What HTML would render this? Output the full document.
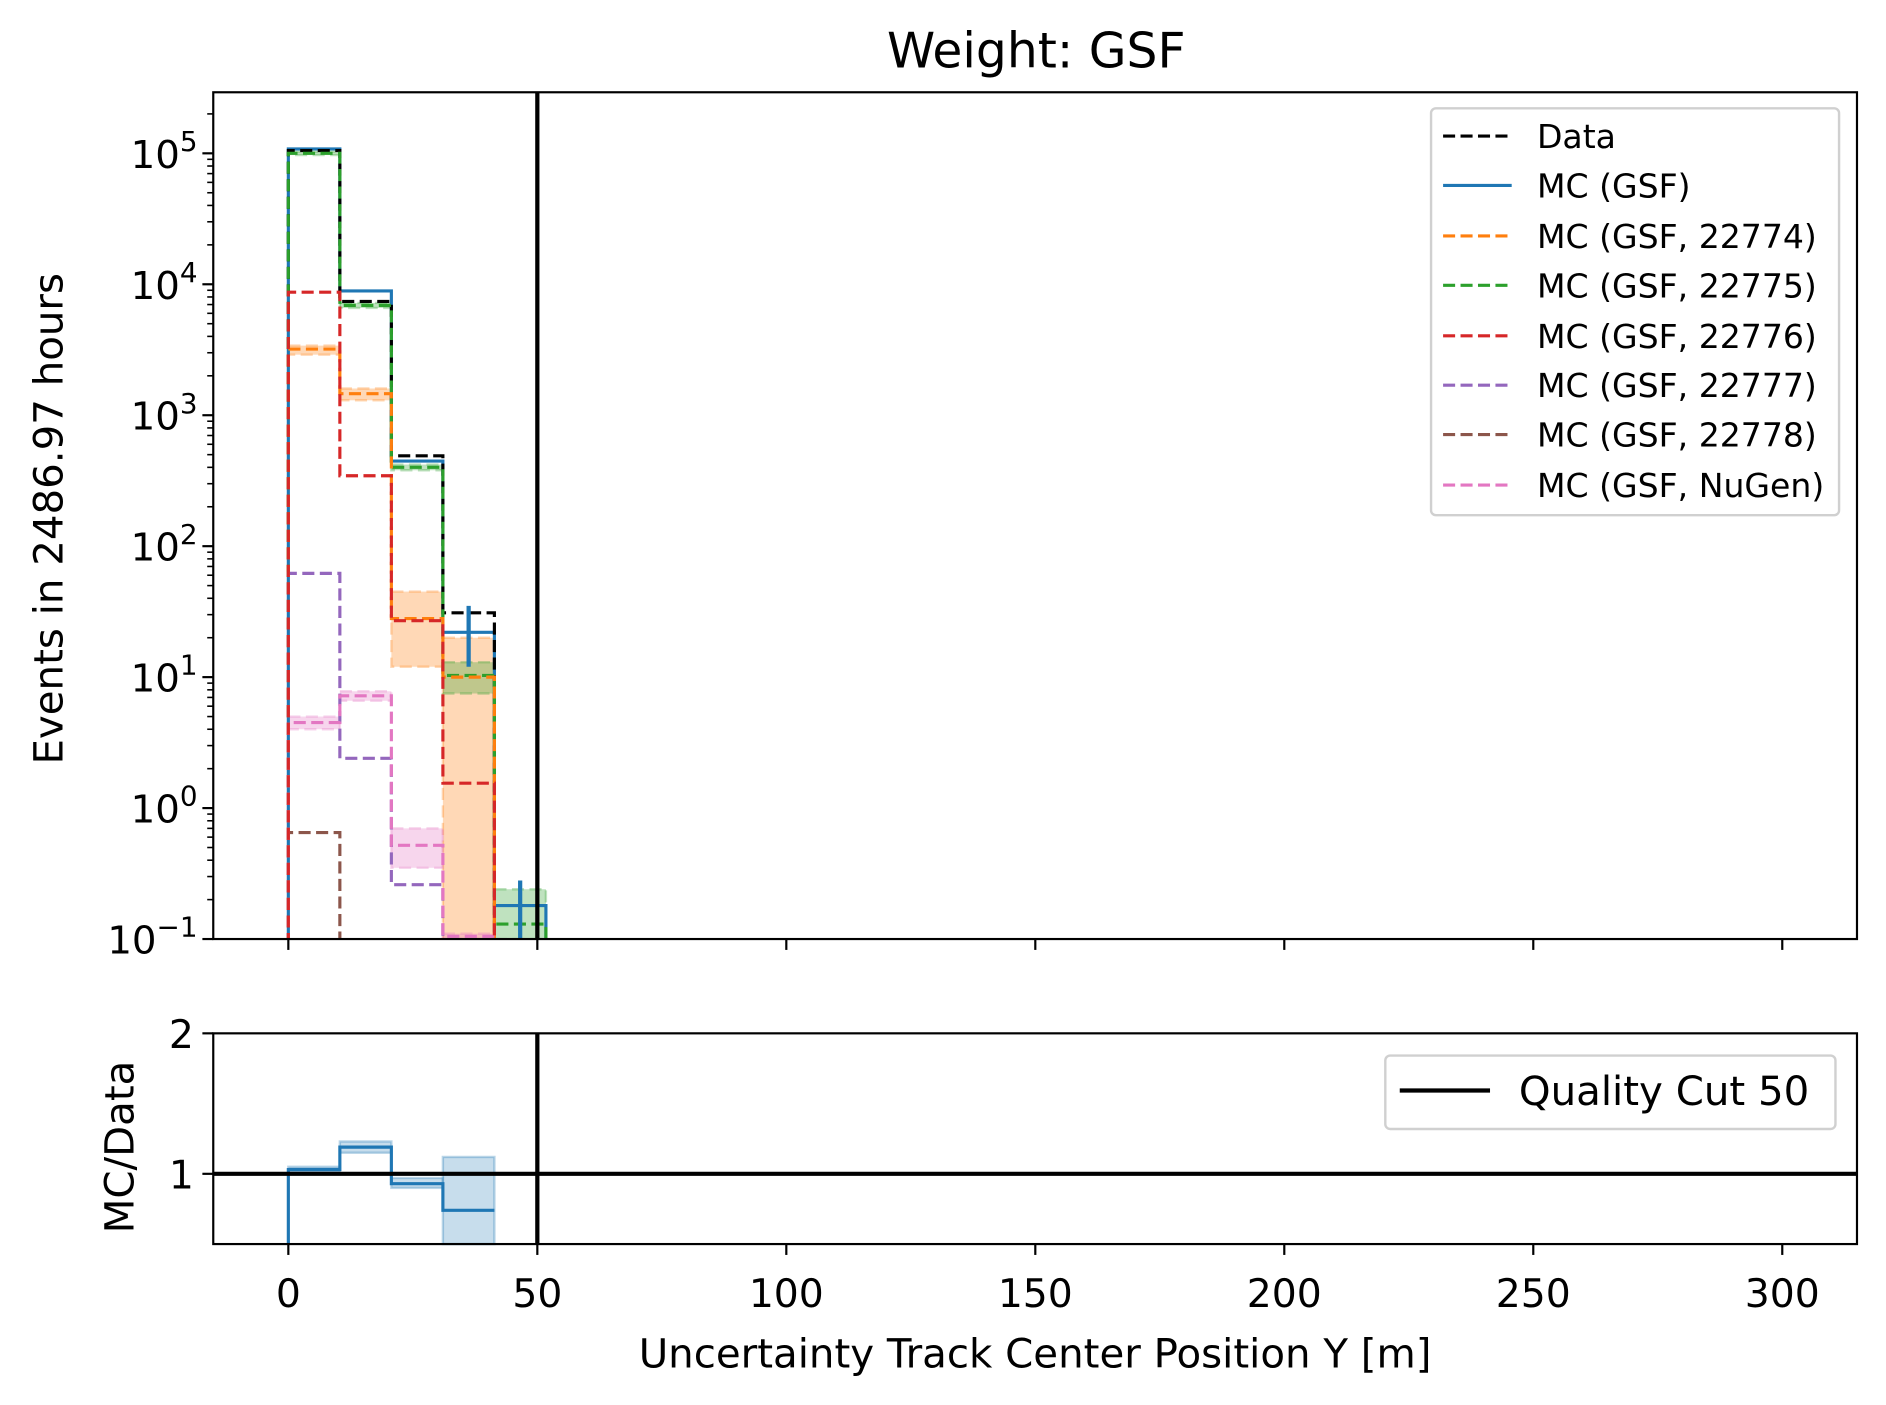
<!DOCTYPE html>
<html><head><meta charset="utf-8"><style>
html,body{margin:0;padding:0;background:#fff}
svg{display:block}
text{font-family:"DejaVu Sans","Liberation Sans",sans-serif;fill:#000}
</style></head><body>
<svg id="chart" xmlns="http://www.w3.org/2000/svg" width="1886" height="1405" viewBox="0 0 1560 1162.1">
<rect width="1560" height="1162.1" fill="#fff"/>
<g id="main"></g>
<g id="ratio"></g>
<g id="axes"></g>
</svg>
<script>
const binWidth = 300/29;
const dataVals = [1.05e5, 7.4e3, 490, 31, null];
const mcGsf = [1.08e5, 8.9e3, 447, 22, 0.18];
const mc22774 = [3.2e3, 1.46e3, 28, 10, null];
const mc22774Lo = [2.9e3, 1.3e3, 12, 0.1, null];
const mc22774Hi = [3.4e3, 1.6e3, 45, 20, null];
const mc22775 = [1.0e5, 6.9e3, 400, 10.3, 0.13];
const mc22775Lo = [0.97e5, 6.6e3, 380, 7.5, 0.1];
const mc22775Hi = [1.03e5, 7.2e3, 420, 13, 0.24];
const mc22776 = [8.7e3, 345, 27, 1.55, null];
const mc22777 = [62, 2.4, 0.26, null, null];
const mc22778 = [0.65, null, null, null, null];
const mcNuGen = [4.5, 7.2, 0.52, 0.105, null];
const nuGenLo = [4.0, 6.6, 0.35, 0.1, null];
const nuGenHi = [5.0, 7.8, 0.7, 0.11, null];
const ratioVals = [1.03, 1.19, 0.93, 0.74];
const ratioLo = [1.01, 1.15, 0.9, 0.5];
const ratioHi = [1.05, 1.23, 0.97, 1.12];
const errCenters = [3, 4];
const errLo = [12, 0.1];
const errHi = [35, 0.28];
const xTicks = [0, 50, 100, 150, 200, 250, 300];
const yDecades = [-1, 0, 1, 2, 3, 4, 5];
const ratioTicks = [1, 2];
const cutValue = 50;

const X0=176.4, X1=1536, T0=76.3, T1=776.7, R0=854.7, R1=1029;
const DASH='10,4.5';
const xScale = v => 238.5 + (v)*(1474.2-238.5)/300;
const yScale = v => T1 - (Math.log10(v)+1)*(T1-126.8)/6;
const rScale = v => R1 - (v-0.5)*(R1-R0)/1.5;
const NS="http://www.w3.org/2000/svg";
function mk(tag, attrs, parent){const e=document.createElementNS(NS,tag);for(const k in attrs)e.setAttribute(k,attrs[k]);parent.appendChild(e);return e;}
const main=document.getElementById('main'), ratio=document.getElementById('ratio'), axes=document.getElementById('axes');
const clip=mk('clipPath',{id:'cm'},document.getElementById('chart'));
mk('rect',{x:X0,y:T0,width:X1-X0,height:T1-T0},clip);
main.setAttribute('clip-path','url(#cm)');

function stepPath(vals){
  let d='', first=true;
  for(let i=0;i<vals.length;i++){
    const v=vals[i]; if(v==null) continue;
    const xa=xScale(i*binWidth), xb=xScale((i+1)*binWidth), y=yScale(v);
    if(first){ d+=`M${xa},${T1+5} L${xa},${y}`; first=false;}
    else d+=` L${xa},${y}`;
    d+=` L${xb},${y}`;
    if(i+1>=vals.length || vals[i+1]==null){ d+=` L${xb},${T1+5}`; }
  }
  return d;
}
function band(lo,hi,color,name){
  for(let i=0;i<lo.length;i++){ if(lo[i]==null) continue;
    const r=mk('rect',{x:xScale(i*binWidth),y:yScale(hi[i]),width:xScale(binWidth)-xScale(0),height:yScale(lo[i])-yScale(hi[i]),fill:color,'fill-opacity':0.3,stroke:color,'stroke-opacity':0.3,'stroke-dasharray':DASH,'stroke-width':2},main);
    
    
  }
}
band(mc22774Lo,mc22774Hi,'#ff7f0e','mc-22774');
band(mc22775Lo,mc22775Hi,'#2ca02c','mc-22775');
band(nuGenLo,nuGenHi,'#e377c2','mc-nugen');
const series=[
 [mcGsf,'#1f77b4',null,'mc-gsf-line'],
 [dataVals,'#000',DASH,'data-line'],
 [mc22775,'#2ca02c',DASH,'mc-22775-line'],
 [mc22774,'#ff7f0e',DASH,'mc-22774-line'],
 [mc22777,'#9467bd',DASH,'mc-22777-line'],
 [mc22778,'#8c564b',DASH,'mc-22778-line'],
 [mcNuGen,'#e377c2',DASH,'mc-nugen-line'],
 [mc22776,'#d62728',DASH,'mc-22776-line'],
];
series.forEach(s=>{
  const p=mk('path',{d:stepPath(s[0]),fill:'none',stroke:s[1],'stroke-width':2.6},main);
  if(s[2]) p.setAttribute('stroke-dasharray',s[2]);
  
  
});
for(let k=0;k<errCenters.length;k++){
  const cx=xScale((errCenters[k]+0.5)*binWidth);
  const l=mk('line',{x1:cx,x2:cx,y1:yScale(errHi[k]),y2:yScale(errLo[k]),stroke:'#1f77b4','stroke-width':3.5},main);
  
  
}
const cutL=mk('line',{x1:xScale(cutValue),x2:xScale(cutValue),y1:T0,y2:T1,stroke:'#000','stroke-width':3.5},main);



for(let i=0;i<ratioVals.length;i++){
  const r=mk('rect',{x:xScale(i*binWidth),y:rScale(ratioHi[i]),width:xScale(binWidth)-xScale(0),height:rScale(ratioLo[i])-rScale(ratioHi[i]),fill:'#1f77b4','fill-opacity':0.25,stroke:'#1f77b4','stroke-opacity':0.3,'stroke-width':2},ratio);
  
  
}
let rd=`M${xScale(0)},${R1}`;
ratioVals.forEach((v,i)=>{rd+=` L${xScale(i*binWidth)},${rScale(v)} L${xScale((i+1)*binWidth)},${rScale(v)}`;});
const rp=mk('path',{d:rd,fill:'none',stroke:'#1f77b4','stroke-width':2.6},ratio);


const one=mk('line',{x1:X0,x2:X1,y1:rScale(1),y2:rScale(1),stroke:'#000','stroke-width':3.5},ratio);


const cut2=mk('line',{x1:xScale(cutValue),x2:xScale(cutValue),y1:R0,y2:R1,stroke:'#000','stroke-width':3.5},ratio);



[[T0,T1,'main-frame'],[R0,R1,'ratio-frame']].forEach(f=>{
  const r=mk('rect',{x:X0,y:f[0],width:X1-X0,height:f[1]-f[0],fill:'none',stroke:'#000','stroke-width':1.8},axes);
  
  
});
xTicks.forEach(t=>{
  const x=xScale(t);
  mk('line',{x1:x,x2:x,y1:T1,y2:T1+9,stroke:'#000','stroke-width':1.8},axes);
  mk('line',{x1:x,x2:x,y1:R1,y2:R1+9,stroke:'#000','stroke-width':1.8},axes);
  const tx=mk('text',{x:x,y:R1+52,'text-anchor':'middle','font-size':32.5},axes);
  tx.textContent=t;
  
  
});
yDecades.forEach(d=>{
  const y=yScale(Math.pow(10,d));
  mk('line',{x1:X0-9,x2:X0,y1:y,y2:y,stroke:'#000','stroke-width':1.8},axes);
  const tx=mk('text',{x:X0-13,y:y+12,'text-anchor':'end','font-size':32},axes);
  tx.innerHTML='10<tspan dy="-14" font-size="23">'+(d<0?'\u22121':d)+'</tspan>';
  
  
  for(let m=2;m<10;m++){const yy=yScale(m*Math.pow(10,d)); if(yy<T0) continue;
    mk('line',{x1:X0-5,x2:X0,y1:yy,y2:yy,stroke:'#000','stroke-width':1.3},axes);}
});
ratioTicks.forEach(t=>{
  const y=rScale(t);
  mk('line',{x1:X0-9,x2:X0,y1:y,y2:y,stroke:'#000','stroke-width':1.8},axes);
  const tx=mk('text',{x:X0-16,y:y+12,'text-anchor':'end','font-size':32.5},axes);
  tx.textContent=t;
  
  
});
</script>
<svg style="position:absolute;left:0;top:0" width="1886" height="1405" viewBox="0 0 1567 1167.3">
<text x="861" y="56" text-anchor="middle" font-size="40.5">Weight: GSF</text>
<text x="0" y="0" font-size="33.5" text-anchor="middle" transform="translate(52,431) rotate(-90)">Events in 2486.97 hours</text>
<text x="0" y="0" font-size="33.5" text-anchor="middle" transform="translate(111,953) rotate(-90)">MC/Data</text>
<text x="860" y="1136" text-anchor="middle" font-size="33.5">Uncertainty Track Center Position Y [m]</text>
<g>
<rect x="1189" y="90" width="339" height="338" rx="4" fill="#fff" fill-opacity="0.85" stroke="#d0d0d0" stroke-width="2"/>
<g font-size="27.5">
<line x1="1199" x2="1256" y1="113" y2="113" stroke="#000" stroke-width="2.6" stroke-dasharray="10,4.5"/><text x="1277" y="123">Data</text>
<line x1="1199" x2="1256" y1="154" y2="154" stroke="#1f77b4" stroke-width="2.6"/><text x="1277" y="164">MC (GSF)</text>
<line x1="1199" x2="1256" y1="196" y2="196" stroke="#ff7f0e" stroke-width="2.6" stroke-dasharray="10,4.5"/><text x="1277" y="206">MC (GSF, 22774)</text>
<line x1="1199" x2="1256" y1="237" y2="237" stroke="#2ca02c" stroke-width="2.6" stroke-dasharray="10,4.5"/><text x="1277" y="247">MC (GSF, 22775)</text>
<line x1="1199" x2="1256" y1="279" y2="279" stroke="#d62728" stroke-width="2.6" stroke-dasharray="10,4.5"/><text x="1277" y="289">MC (GSF, 22776)</text>
<line x1="1199" x2="1256" y1="320" y2="320" stroke="#9467bd" stroke-width="2.6" stroke-dasharray="10,4.5"/><text x="1277" y="330">MC (GSF, 22777)</text>
<line x1="1199" x2="1256" y1="361" y2="361" stroke="#8c564b" stroke-width="2.6" stroke-dasharray="10,4.5"/><text x="1277" y="371">MC (GSF, 22778)</text>
<line x1="1199" x2="1256" y1="403" y2="403" stroke="#e377c2" stroke-width="2.6" stroke-dasharray="10,4.5"/><text x="1277" y="413">MC (GSF, NuGen)</text>
</g></g>
<g>
<rect x="1151" y="877" width="374" height="61" rx="4" fill="#fff" stroke="#d0d0d0" stroke-width="2"/>
<line x1="1163" x2="1238" y1="906" y2="906" stroke="#000" stroke-width="3.5"/>
<text x="1262" y="918" font-size="33.5">Quality Cut 50</text>
</g>
</svg>
</body></html>
